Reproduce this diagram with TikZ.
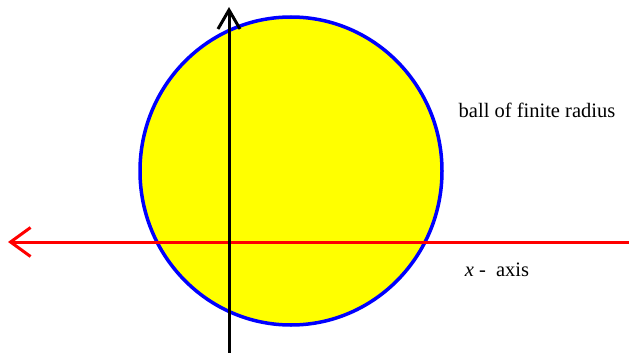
\documentclass[tikz,border=0pt]{standalone}
\usepackage{fontspec}
\setmainfont{Liberation Serif}
\newfontfamily\labelfont{Liberation Serif}
\usetikzlibrary{arrows.meta}
\definecolor{ballyellow}{RGB}{255,255,0}
\definecolor{ballblue}{RGB}{0,0,255}
\definecolor{axisred}{RGB}{255,0,0}

\begin{document}
\begin{tikzpicture}[x=1pt, y=-1pt]
    \useasboundingbox (0, 0) rectangle (629, 353);
    % the ball
    \draw[ballblue, line width=3.5pt, fill=ballyellow] (291, 171) ellipse (151 and 154);

    % axes
    \coordinate (xstart) at (629, 242);
    \coordinate (xend) at (8, 242);
    \coordinate (ystart) at (229, 353);
    \coordinate (yend) at (229, 7);
    \draw[-{Straight Barb[length=20pt, width=29pt, line width=3pt]}, axisred, line width=3pt] (xstart) -- (xend);
    \draw[-{Straight Barb[length=19pt, width=22pt, line width=3pt]}, black, line width=3pt] (ystart) -- (yend);

    % labels
    \node[font=\labelfont\fontsize{20.5}{24}\selectfont] (balllabel) at (537, 110) {ball of finite radius};
    \node[font=\labelfont\fontsize{20.5}{24}\selectfont] (xlabel) at (497, 270) {\textit{x} -\ \ axis};
\end{tikzpicture}
\end{document}
